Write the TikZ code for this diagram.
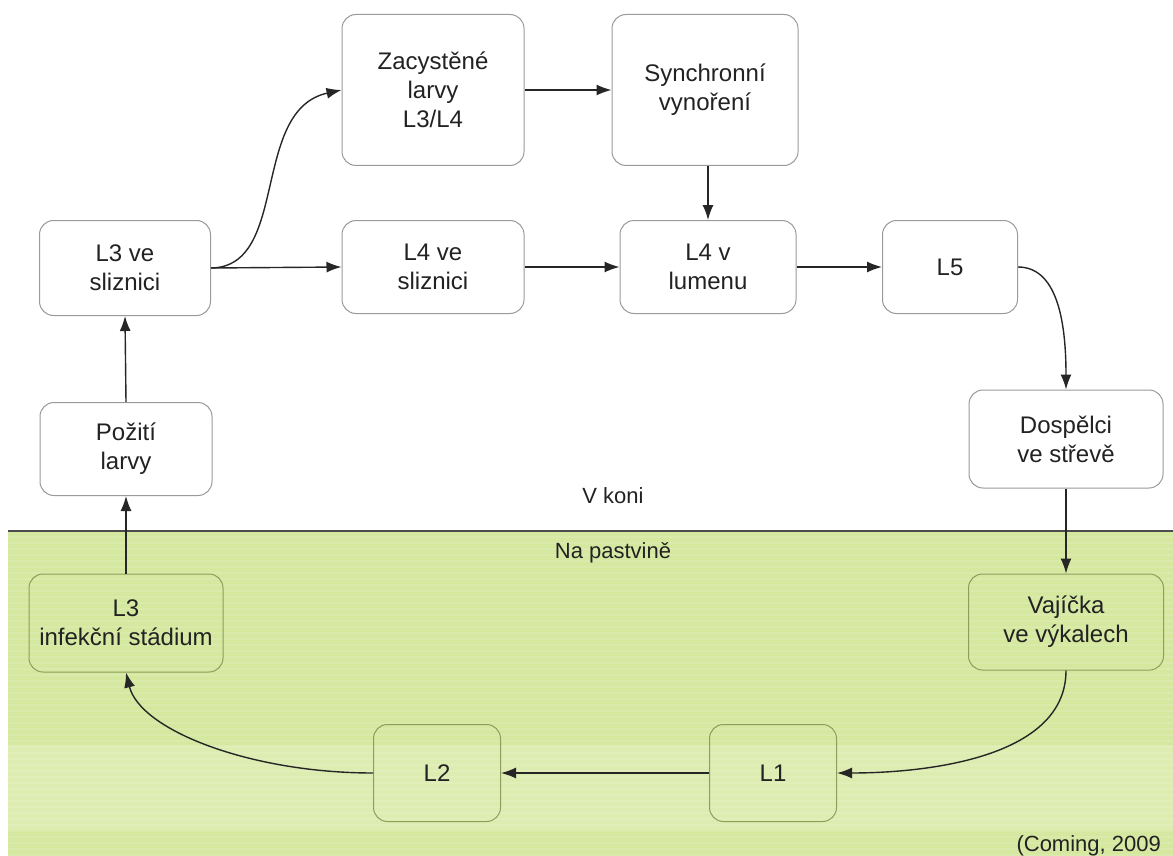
\documentclass[tikz,border=0pt]{standalone}
\usepackage{fontspec}
\setmainfont{Liberation Sans}
\usetikzlibrary{arrows.meta}
\definecolor{grass}{HTML}{D5E89F}
\definecolor{grasslight}{HTML}{E3F0BE}
\definecolor{boxline}{HTML}{9A9A9A}
\definecolor{greenline}{HTML}{8E9E5A}
\definecolor{txt}{HTML}{222222}
\tikzset{
  stagebox/.style={draw=boxline, line width=1pt, rounded corners=14pt, fill=white,
    align=center, text=txt, font=\fontsize{24}{29}\selectfont, inner sep=0pt},
  fieldbox/.style={stagebox, draw=greenline, fill=none},
  flow/.style={-{Latex[length=15pt,width=11pt]}, line width=1.4pt, draw=black!85},
  lbl/.style={text=txt, font=\fontsize{22}{26}\selectfont},
}
\begin{document}
\begin{tikzpicture}[x=1pt,y=-1pt]
\useasboundingbox (0,0) rectangle (1173,856);
% pasture band
\fill[grass] (8,531) rectangle (1173,856);
\fill[grasslight, opacity=0.6] (8,745) rectangle (1173,830);
\foreach \yy in {536,542,...,856} {
  \fill[white, opacity=0.12] (8,\yy) rectangle (1173,\yy+2);
}
\draw[line width=1.5pt, draw=black!70] (8,531) -- (1173,531);

% nodes
\node[stagebox, minimum width=171pt, minimum height=95pt] (l3s) at (125,268) {L3 ve\\sliznici};
\node[stagebox, minimum width=172pt, minimum height=93pt] (poz) at (126,449) {Požití\\larvy};
\node[stagebox, minimum width=182pt, minimum height=151pt] (zac) at (433,90) {Zacystěné\\larvy\\L3/L4};
\node[stagebox, minimum width=186pt, minimum height=151pt] (syn) at (705,90) {Synchronní\\vynoření};
\node[stagebox, minimum width=182pt, minimum height=93pt] (l4s) at (433,267) {L4 ve\\sliznici};
\node[stagebox, minimum width=176pt, minimum height=93pt] (l4l) at (708,267) {L4 v\\lumenu};
\node[stagebox, minimum width=135pt, minimum height=93pt] (l5) at (950,267) {L5};
\node[stagebox, minimum width=194pt, minimum height=98pt] (dos) at (1066,439) {Dospělci\\ve střevě};
\node[fieldbox, minimum width=195pt, minimum height=96pt] (vaj) at (1066,622) {Vajíčka\\ve výkalech};
\node[fieldbox, minimum width=127pt, minimum height=97pt] (l1) at (773,773) {L1};
\node[fieldbox, minimum width=127pt, minimum height=97pt] (l2) at (437,773) {L2};
\node[fieldbox, minimum width=194pt, minimum height=98pt] (l3i) at (126,623) {L3\\infekční stádium};

% labels
\node[lbl] (vkoni) at (613,496) {V koni};
\node[lbl] (napast) at (613,553) {Na pastvině};
\node[lbl, anchor=base west] (cite) at (1013,851) {(Coming, 2009};

% connectors
\draw[flow] (l3s.east) -- (l4s.west);
\draw[flow] (l3s.east) .. controls (290,267) and (250,110) .. (zac.west);
\draw[flow] (zac.east) -- (syn.west);
\draw[flow] (syn.south -| l4l.north) -- (l4l.north);
\draw[flow] (l4s.east) -- (l4l.west);
\draw[flow] (l4l.east) -- (l5.west);
\draw[flow] (l5.east) .. controls (1060,267) and (1066,330) .. (dos.north);
\draw[flow] (dos.south) -- (vaj.south |- vaj.north);
\draw[flow] (vaj.south) .. controls (1066,760) and (920,773) .. (l1.east);
\draw[flow] (l1.west) -- (l2.east);
\draw[flow] (l2.west) .. controls (250,773) and (140,730) .. (l3i.south);
\draw[flow] (l3i.north) -- (poz.south);
\draw[flow] (poz.north) -- (l3s.south);
\end{tikzpicture}
\end{document}
